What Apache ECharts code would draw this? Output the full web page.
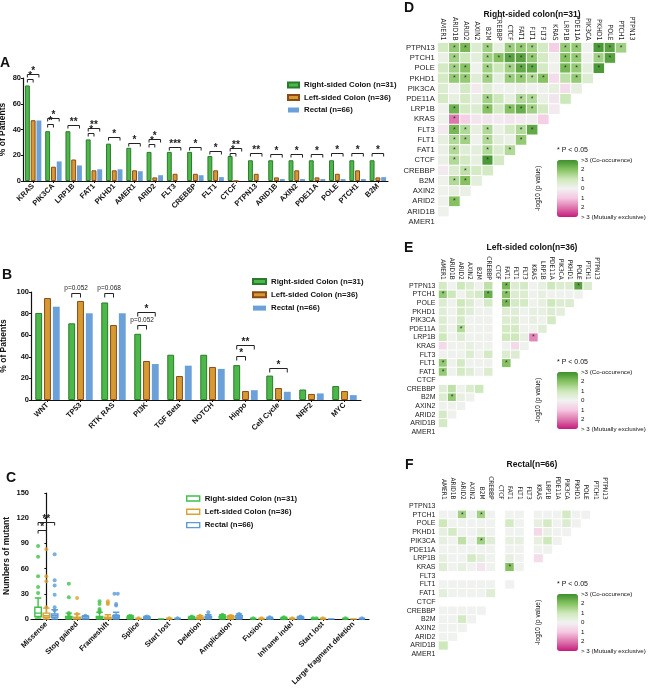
<!DOCTYPE html>
<html>
<head>
<meta charset="utf-8">
<script src="https://cdn.jsdelivr.net/npm/echarts@6/dist/echarts.min.js"></script>
<style>
html, body { margin: 0; padding: 0; background: #fff; }
#chart { width: 649px; height: 690px; }
</style>
</head>
<body>
<div id="chart"></div>
<script>
var FONT = "'Liberation Sans', Arial, sans-serif";
var NARROW = "'Liberation Sans Narrow', 'DejaVu Sans Condensed', 'Liberation Sans', sans-serif";

var groupNames = ['Right-sided Colon (n=31)', 'Left-sided Colon (n=36)', 'Rectal (n=66)'];

// A: most mutated genes, % of patients
var genesA = ['KRAS', 'PIK3CA', 'LRP1B', 'FAT1', 'PKHD1', 'AMER1', 'ARID2', 'FLT3', 'CREBBP',
  'FLT1', 'CTCF', 'PTPN13', 'ARID1B', 'AXIN2', 'PDE11A', 'POLE', 'PTCH1', 'B2M'];
var rightA = [74.2, 38.7, 38.7, 32.3, 29.0, 25.8, 22.6, 22.6, 22.6, 19.4, 19.4, 16.1, 16.1, 16.1, 16.1, 16.1, 16.1, 16.1];
var leftA = [47.2, 11.1, 16.7, 8.3, 8.3, 8.3, 2.8, 5.6, 5.6, 8.3, 0, 5.6, 2.8, 8.3, 2.8, 5.6, 8.3, 2.8];
var rectalA = [47.0, 15.2, 12.1, 9.1, 9.1, 7.6, 4.5, 0, 4.5, 3.0, 0, 0, 1.5, 1.5, 1.5, 1.5, 1.5, 3.0];
// [category, bracket level, from bar, to bar, label]
var sigA = [
  [0, 83, 0, 2, '*'], [0, 79, 0, 1, '*'],
  [1, 48.7, 0, 2, '*'], [1, 44.3, 0, 1, '*'],
  [2, 43.5, 0, 2, '**'],
  [3, 41.4, 0, 2, '**'], [3, 37, 0, 1, '*'],
  [4, 34.4, 0, 2, '*'],
  [5, 29.8, 0, 2, '*'],
  [6, 32.4, 0, 2, '*'], [6, 28.7, 0, 1, '*'],
  [7, 26.6, 0, 2, '***'],
  [8, 26.6, 0, 2, '*'],
  [9, 23.5, 0, 2, '*'],
  [10, 25.9, 0, 2, '**'], [10, 22, 0, 1, '*'],
  [11, 22, 0, 2, '**'],
  [12, 21, 0, 2, '*'], [13, 21, 0, 2, '*'], [14, 21, 0, 2, '*'],
  [15, 21.5, 0, 2, '*'], [16, 21.5, 0, 2, '*'], [17, 21.5, 0, 2, '*']
];

// B: pathways, % of patients
var pathwaysB = ['WNT', 'TP53', 'RTK RAS', 'PI3K', 'TGF Beta', 'NOTCH', 'Hippo', 'Cell Cycle', 'NRF2', 'MYC'];
var rightB = [80.6, 71.0, 90.3, 61.3, 41.9, 41.9, 32.3, 22.6, 9.7, 12.9];
var leftB = [94.4, 91.7, 69.4, 36.1, 22.2, 30.6, 8.3, 11.1, 5.6, 8.3];
var rectalB = [86.4, 80.3, 80.3, 33.3, 31.8, 28.8, 9.1, 7.6, 6.1, 4.5];
var sigB = [
  [1, 99, 0, 1, 'p=0.052'],
  [2, 99, 0, 1, 'p=0.068'],
  [3, 81.7, 0, 2, '*'], [3, 69, 0, 1, 'p=0.052'],
  [6, 51, 0, 2, '**'], [6, 40.8, 0, 1, '*'],
  [7, 30, 0, 2, '*']
];

// C: mutation types, numbers of mutant (box: min, Q1, median, Q3, max)
var typesC = ['Missense', 'Stop gained', 'Frameshift', 'Splice', 'Start lost', 'Deletion',
  'Amplication', 'Fusion', 'Inframe indel', 'Start lost', 'Large fragment deletion'];
var boxRight = [[1, 3, 7, 14, 25], [0, 1, 2, 3, 7], [0, 1, 2, 3, 8], [0, 1, 1, 2, 4], [0, 0, 0, 0, 0], [0, 0, 1, 2, 3],
  [0, 1, 2, 3, 5], [0, 0, 0, 0, 1], [0, 0, 1, 1, 2], [0, 0, 0, 1, 1], [0, 0, 0, 0, 1]];
var boxLeft = [[0, 2, 4, 7, 13], [0, 0, 1, 2, 6], [0, 0, 1, 2, 5], [0, 0, 0, 0, 1], [0, 0, 0, 0, 1], [0, 0, 1, 2, 4],
  [0, 1, 2, 3, 4], [0, 0, 0, 0, 1], [0, 0, 0, 0, 1], [0, 0, 0, 0, 1], [0, 0, 0, 0, 0]];
var boxRectal = [[0, 2, 4, 6, 11], [0, 0, 1, 3, 4], [0, 1, 2, 4, 8], [0, 0, 1, 2, 3], [0, 0, 0, 0, 1], [0, 1, 2, 3, 5],
  [0, 1, 2, 4, 6], [0, 0, 0, 1, 2], [0, 0, 1, 2, 3], [0, 0, 0, 0, 0], [0, 0, 0, 0, 1]];
var dotsRight = [[87, 74, 51, 38, 31], [42, 26, 7, 5], [21, 18, 12, 10, 8], [4, 3, 3], [], [3, 2],
  [5, 4, 3, 3, 2], [1], [2, 1], [1, 1], [1]];
var dotsLeft = [[83, 51, 45, 14], [25, 6], [21, 19, 18], [1], [1], [4, 3, 2],
  [4, 3, 3, 2], [1], [1], [1], []];
var dotsRectal = [[77, 46, 40, 29, 14, 10], [4], [30, 30, 18, 16, 4, 4], [3, 2, 2], [1], [8, 4, 3],
  [6, 5, 4, 3, 2], [2, 1], [3, 2], [], [1]];
var sigC = [[0, 115.7, 0, 2, '**'], [0, 106, 0, 1, '*']];

// D-F: co-occurrence heatmaps, signed -log10(p); rows from PTPN13 (top) down
var hmGenes = ['AMER1', 'ARID1B', 'ARID2', 'AXIN2', 'B2M', 'CREBBP', 'CTCF', 'FAT1', 'FLT1', 'FLT3',
  'KRAS', 'LRP1B', 'PDE11A', 'PIK3CA', 'PKHD1', 'POLE', 'PTCH1', 'PTPN13'];
var hmRight = [
  [0.8, 1.8, 2.2, 0.6, 1.6, 0.3, 1.7, 1.8, 1.6, 0.8, -0.8, 1.8, 1.8, 0.05, 2.8, 2.6, 1.6],
  [0.2, 1.6, 1.0, 0.4, 1.6, 2.0, 2.6, 2.6, 1.8, 0.8, 0.1, 2.0, 1.8, 0.1, 1.6, 2.6],
  [0.8, 1.6, 2.0, 0.1, 1.6, 1.0, 1.6, 2.5, 2.5, 0.8, 0.1, 2.2, 1.8, 0.4, 2.8],
  [0.8, 1.8, 1.8, 0.5, 1.6, 0.4, 1.7, 1.8, 1.4, 2.0, -0.5, 1.2, 1.8, 0.6],
  [0.6, 0.1, 0.8, -0.2, 0.5, 0.1, 0.1, 0.2, 0.1, 0.1, 0.3, -0.5, 0.3],
  [0.8, 0.3, 0.8, 0.3, 1.6, 1.0, 0.3, 1.4, 1.4, 0.2, -0.3, 1.0],
  [0.1, 2.3, 0.8, 0.6, 2.0, 0.8, 2.0, 2.4, 1.6, 0.8, -0.2],
  [0.1, -2.0, -0.8, -0.3, -0.3, -0.2, -0.3, -0.2, -0.1, -0.8],
  [-0.2, 2.2, 1.4, 0.3, 1.4, 0.2, 0.8, 1.4, 2.5],
  [0.3, 1.4, 1.6, 0.1, 1.4, 0.4, 0.2, 1.8],
  [0.2, 1.4, 0.5, 0.4, 1.4, 0.6, 1.4],
  [0.2, 1.4, 0.8, 0.3, 2.8, 0.8],
  [-0.2, 0.6, 1.2, 0.8, 0.8],
  [0.1, 1.4, 2.0, 0.4],
  [0.1, 0.3, 0.2],
  [0.1, 2.0],
  [0.1]
];
var sigRight = ['.**.*.***..**.***', '.*..*****..**.**', '.**.*.***..**.*', '.**.*.****..*.',
  '.............', '....*..**...', '.*..*.***..', '.*........', '.**.*..**', '.**.*..*',
  '.*..*.*', '.*..*.', '..*..', '.**.', '...', '.*', '.'];
var hmLeft = [
  [0.8, 0.05, 1.0, 0.6, 0.1, 1.2, null, 2.2, 0.6, 0.8, 0.05, 0.3, 1.0, 0.6, 0.6, 2.6, 0.6],
  [1.8, 1.0, 0.05, 0.6, 0.8, 2.4, null, 2.0, 0.6, 0.6, 0.1, 0.3, 0.1, 0.1, 0.1, 0.1],
  [0.6, 0.1, 1.0, 0.6, 0.1, 0.8, null, 2.2, 0.8, 0.8, 0.1, 0.3, 1.0, 0.6, 0.6],
  [0.5, 0.1, 0.8, 0.5, 0.1, 0.1, null, 0.5, 0.5, 0.1, 0.3, 0.3, 0.6, 0.4],
  [0.6, 0.1, 0.8, 0.1, 0.1, 0.1, null, 0.6, 0.6, 0.1, 0.3, 0.1, 0.8],
  [0.6, 0.1, 1.4, 0.1, 0.1, 0.1, null, 0.8, 0.8, 0.1, 0.1, 0.5],
  [1.0, 0.1, 0.6, 0.1, 0.1, 0.1, null, 1.0, 1.0, 0.3, -1.8],
  [-0.6, 0.1, 0.1, 0.3, 0.1, 0.1, null, 0.1, -0.6, 0.1],
  [0.1, 0.1, 0.1, 0.6, 0.1, 0.8, null, 0.6, 0.6],
  [1.8, 0.1, 0.8, 0.1, 0.1, 0.1, null, 2.0],
  [1.8, 0.1, 0.8, 0.5, 0.1, 0.6, null],
  [],
  [0.5, 1.2, 0.1, 0.6, 1.0],
  [0.6, 1.8, 0.3, 0.1],
  [0.1, 0.1, 0.1],
  [0.8, 0.1],
  [0.8]
];
var sigLeft = ['.......*.......*.', '*....*.*........', '.......*.......', '', '', '..*.........',
  '..........*', '', '', '*......*', '*......', '', '', '.*..', '', '', ''];
var hmRectal = [
  [],
  [0.05, 0.05, 1.6, 0.05, 1.6, 0.05, null, 0.05, 0.05, null, 0.05, 0.05, 0.05, 0.8, 0.05, 0.05],
  [1.0, 0.05, 0.05, 0.05, 0.05, 0.05, null, 0.8, 0.05, null, 0.3, 0.8, 0.05, 0.6, 0.05],
  [0.3, 0.8, 0.05, 0.05, 0.3, 0.05, null, 0.05, 0.05, null, -0.6, 0.2, 0.05, 0.05],
  [0.3, 0.05, 1.2, 0.05, 1.6, 0.5, null, 0.3, 0.3, null, 0.3, 1.0, 0.05],
  [0.05, 0.05, 0.05, 0.05, 0.05, 0.05, null, 0.05, 0.05, null, 0.05, 0.05],
  [0.3, 0.05, 0.05, 0.8, 0.4, 0.05, null, 0.3, 0.05, null, -0.5],
  [0.5, 0.05, 0.3, 0.05, -0.3, 0.05, null, 2.0, 0.05, null],
  [],
  [0.05, 0.05, 0.05, 0.05, 0.05, 0.05, null, 0.05],
  [0.4, 0.05, 0.05, 0.05, 0.05, 0.5, null],
  [],
  [0.05, 0.05, 0.05, 0.05, 0.05],
  [0.05, 0.05, 0.8, 0.05],
  [0.05, 0.05, 0.05],
  [0.05, 0.05],
  [1.0]
];
var sigRectal = ['', '..*.*...........', '', '', '....*........', '', '', '.......*..', '', '', '', '', '', '', '', '', ''];

var fills = ['#4cb84a', '#d69a33', '#6ba1d8'];
var edges = ['#2b7a2b', '#8a4a17', '#6ba1d8'];
var dotColors = ['#3fc04a', '#d9a232', '#5b9bd6'];
var hmColors = ['#c51b7d', '#de77ae', '#f6c8e2', '#f2f2f2', '#cde8ba', '#86c262', '#3e8f2c'];

function heatData(rows, sig) {
  var out = [];
  rows.forEach(function (row, i) {
    row.forEach(function (v, j) {
      if (v === null) return;
      out.push([j, 17 - i, v, (sig[i] || '').charAt(j) === '*' ? 1 : 0]);
    });
  });
  return out;
}

function barOffset(catGap, gap) {
  return function (band, k) {
    var total = band * (1 - catGap);
    var w = total / (3 + 2 * gap);
    return -total / 2 + w / 2 + k * w * (1 + gap);
  };
}
function boxOffset(band, k) {
  var avail = band * 0.8 - 2;
  var gap = avail / 3 * 0.3;
  var w = (avail - 2 * gap) / 3;
  return w / 2 - avail / 2 + k * (gap + w);
}

function bracketSeries(list, xi, yi, offsetFn, tick) {
  return {
    type: 'custom', xAxisIndex: xi, yAxisIndex: yi, clip: false, silent: true, z: 5,
    data: list.map(function (b) { return [b[0], b[1]]; }),
    encode: { x: 0, y: 1 },
    renderItem: function (params, api) {
      var b = list[params.dataIndex];
      var p = api.coord([b[0], b[1]]);
      var band = api.size([1, 0])[0];
      var x1 = p[0] + offsetFn(band, b[2]);
      var x2 = p[0] + offsetFn(band, b[3]);
      var y = Math.round(p[1]) + 0.5;
      var small = b[4].charAt(0) === 'p';
      return {
        type: 'group',
        children: [
          { type: 'polyline', shape: { points: [[x1, y + tick], [x1, y], [x2, y], [x2, y + tick]] },
            style: { stroke: '#222', lineWidth: 1, fill: null } },
          { type: 'text', style: { text: b[4], x: (x1 + x2) / 2, y: small ? y - 1.5 : y + 2,
            align: 'center', verticalAlign: 'bottom', fill: '#222',
            font: small ? '6.5px ' + FONT : 'bold 10px ' + FONT } }
        ]
      };
    }
  };
}

function barSeries(values, k, xi, yi, catGap, gap, suffix) {
  return {
    type: 'bar', name: groupNames[k] + suffix, xAxisIndex: xi, yAxisIndex: yi, data: values,
    barCategoryGap: catGap, barGap: gap,
    itemStyle: { color: fills[k], borderColor: edges[k], borderWidth: k < 2 ? 1 : 0 }
  };
}

var gridC = { left: 31, top: 493, width: 338, height: 126 };
var bandC = gridC.width / typesC.length;

function dotSeries(lists, k) {
  var pts = [];
  var base = boxOffset(bandC, k) / bandC;
  lists.forEach(function (vals, c) {
    var seen = {};
    vals.forEach(function (v) {
      var n = vals.filter(function (u) { return u === v; }).length;
      var d = seen[v] || 0;
      seen[v] = d + 1;
      pts.push([c + base + (d - (n - 1) / 2) * 0.11, v]);
    });
  });
  return {
    type: 'scatter', name: 'dots' + k, xAxisIndex: 3, yAxisIndex: 2, data: pts,
    symbolSize: 4, itemStyle: { color: dotColors[k] }, z: 4
  };
}

function boxSeries(data, k) {
  return {
    type: 'boxplot', name: groupNames[k] + ' ', xAxisIndex: 2, yAxisIndex: 2, data: data,
    boxWidth: [6.5, 6.5],
    itemStyle: { color: '#fff', borderColor: dotColors[k], borderWidth: 1.4 }
  };
}

var axisLineBlk = { show: true, lineStyle: { color: '#111', width: 1.2 } };
function catAxis(grid, data, rot) {
  return {
    type: 'category', gridIndex: grid, data: data,
    axisLine: axisLineBlk, axisTick: { show: true, length: 2, alignWithLabel: true, lineStyle: { color: '#111' } },
    axisLabel: { rotate: rot, interval: 0, margin: 4, fontSize: 7.5, fontWeight: 'bold', color: '#111', fontFamily: FONT }
  };
}
function valAxis(grid, max, step, name, gapName) {
  return {
    type: 'value', gridIndex: grid, min: 0, max: max, interval: step,
    name: name, nameLocation: 'middle', nameGap: gapName, nameMoveOverlap: false,
    nameTextStyle: { fontSize: 8.5, fontWeight: 'bold', color: '#111', fontFamily: FONT },
    axisLine: axisLineBlk, axisTick: { show: true, length: 2, lineStyle: { color: '#111' } },
    splitLine: { show: false },
    axisLabel: { fontSize: 7.5, fontWeight: 'bold', color: '#111', margin: 2, fontFamily: FONT }
  };
}
function hmXAxis(grid, size) {
  return {
    type: 'category', gridIndex: grid, data: hmGenes, position: 'top',
    axisLine: { show: false }, axisTick: { show: false }, splitLine: { show: false },
    axisLabel: { rotate: 90, interval: 0, margin: 2, fontSize: size, color: '#222', fontFamily: NARROW }
  };
}
function hmYAxis(grid, size) {
  return {
    type: 'category', gridIndex: grid, data: hmGenes,
    axisLine: { show: false }, axisTick: { show: false }, splitLine: { show: false },
    axisLabel: { interval: 0, margin: 3, fontSize: size, color: '#222', fontFamily: FONT }
  };
}
function heatSeries(rows, sig, xi, yi) {
  return {
    type: 'heatmap', xAxisIndex: xi, yAxisIndex: yi, data: heatData(rows, sig),
    itemStyle: { borderColor: '#fff', borderWidth: 1 },
    label: { show: true, fontSize: 7, color: '#333', fontFamily: FONT, padding: [3, 0, 0, 0],
      formatter: function (p) { return p.data[3] ? '*' : ''; } },
    emphasis: { disabled: true }, silent: true
  };
}
function colorMap(series, top) {
  return {
    type: 'continuous', seriesIndex: series, dimension: 2, min: -3, max: 3,
    left: 557, top: top, itemWidth: 21, itemHeight: 57, padding: 0,
    calculable: false, hoverLink: false, inRange: { color: hmColors }
  };
}

function txt(x, y, text, font, align, extra) {
  var el = { type: 'text', x: x, y: y, silent: true,
    style: { text: text, font: font, fill: '#111', align: align || 'left', verticalAlign: 'middle' } };
  if (extra) Object.keys(extra).forEach(function (k) { el[k] = extra[k]; });
  return el;
}
function scaleTexts(top) {
  var h = 57;
  var out = [txt(557, top - 10, '* P < 0.05', '7px ' + FONT)];
  ['>3 (Co-occurence)', '2', '1', '0', '1', '2', '> 3 (Mutually exclusive)'].forEach(function (t, k) {
    out.push(txt(581, top + k * h / 6, t, '6.2px ' + FONT));
  });
  out.push(txt(538, top + h / 2, '-log10 (p value)', '6.5px ' + FONT, 'center', { rotation: Math.PI / 2 }));
  return out;
}

var graphics = [
  txt(0, 63, 'A', 'bold 14px ' + FONT),
  txt(2, 275, 'B', 'bold 14px ' + FONT),
  txt(6, 478, 'C', 'bold 14px ' + FONT),
  txt(404, 8, 'D', 'bold 14px ' + FONT),
  txt(404, 248, 'E', 'bold 14px ' + FONT),
  txt(405, 465, 'F', 'bold 14px ' + FONT),
  txt(532, 15, 'Right-sided colon(n=31)', 'bold 8.5px ' + FONT, 'center'),
  txt(532, 248, 'Left-sided colon(n=36)', 'bold 8.5px ' + FONT, 'center'),
  txt(532, 465, 'Rectal(n=66)', 'bold 8.5px ' + FONT, 'center')
].concat(scaleTexts(160), scaleTexts(372), scaleTexts(594));

function legendAt(items, left, top, gap, w) {
  return {
    data: items, left: left, top: top, orient: 'vertical', padding: 0,
    itemWidth: w, itemHeight: 5, itemGap: gap, icon: 'rect', selectedMode: false,
    textStyle: { fontSize: 7.8, fontWeight: 'bold', color: '#111', fontFamily: FONT, lineHeight: 10 }
  };
}
var hollowLegend = groupNames.map(function (n, k) {
  return { name: n + ' ', icon: 'rect', itemStyle: { color: '#fff', borderColor: dotColors[k], borderWidth: 1.4 } };
});

var chart = echarts.init(document.getElementById('chart'), null, { renderer: 'canvas' });
chart.setOption({
  animation: false,
  backgroundColor: '#fff',
  textStyle: { fontFamily: FONT },
  grid: [
    { left: 23, top: 78, width: 365, height: 103, outerBoundsMode: 'none' },
    { left: 31, top: 292, width: 330, height: 108, outerBoundsMode: 'none' },
    { left: gridC.left, top: gridC.top, width: gridC.width, height: gridC.height, outerBoundsMode: 'none' },
    { left: 437.7, top: 42.6, width: 200, height: 184.3, outerBoundsMode: 'none' },
    { left: 438.5, top: 281.7, width: 162.7, height: 154.3, outerBoundsMode: 'none' },
    { left: 438.5, top: 501.6, width: 171, height: 157, outerBoundsMode: 'none' }
  ],
  legend: [
    legendAt(groupNames, 287, 80, 2.5, 11),
    legendAt(groupNames.map(function (n) { return n + '  '; }), 252, 276.5, 3.3, 13),
    legendAt(hollowLegend, 186, 493.5, 3.3, 13)
  ],
  xAxis: [
    catAxis(0, genesA, 45),
    catAxis(1, pathwaysB, 45),
    catAxis(2, typesC, 45),
    { type: 'value', gridIndex: 2, min: -0.5, max: typesC.length - 0.5, show: false },
    hmXAxis(3, 7),
    hmXAxis(4, 6.5),
    hmXAxis(5, 6.5)
  ],
  yAxis: [
    valAxis(0, 80, 20, '% of Patients', 16),
    valAxis(1, 100, 20, '% of Patients', 23),
    valAxis(2, 150, 30, 'Numbers of mutant', 20),
    hmYAxis(3, 7.6),
    hmYAxis(4, 7),
    hmYAxis(5, 7)
  ],
  visualMap: [colorMap(14, 160), colorMap(15, 372), colorMap(16, 594)],
  series: [
    barSeries(rightA, 0, 0, 0, '19%', '18%', ''),
    barSeries(leftA, 1, 0, 0, '19%', '18%', ''),
    barSeries(rectalA, 2, 0, 0, '19%', '18%', ''),
    bracketSeries(sigA, 0, 0, barOffset(0.19, 0.18), 3),
    barSeries(rightB, 0, 1, 1, '26%', '28%', '  '),
    barSeries(leftB, 1, 1, 1, '26%', '28%', '  '),
    barSeries(rectalB, 2, 1, 1, '26%', '28%', '  '),
    bracketSeries(sigB, 1, 1, barOffset(0.26, 0.28), 4),
    boxSeries(boxRight, 0),
    boxSeries(boxLeft, 1),
    boxSeries(boxRectal, 2),
    dotSeries(dotsRight, 0),
    dotSeries(dotsLeft, 1),
    dotSeries(dotsRectal, 2),
    heatSeries(hmRight, sigRight, 4, 3),
    heatSeries(hmLeft, sigLeft, 5, 4),
    heatSeries(hmRectal, sigRectal, 6, 5),
    bracketSeries(sigC, 2, 2, boxOffset, 3)
  ],
  graphic: graphics
});
</script>
</body>
</html>
